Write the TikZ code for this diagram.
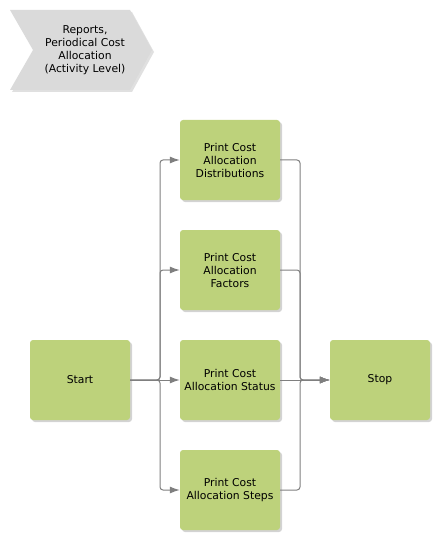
\documentclass[tikz,border=0pt]{standalone}
\usepackage{fontspec}
\setmainfont{DejaVu Sans}
\usetikzlibrary{shadows,arrows.meta}
\definecolor{boxgreen}{HTML}{BDD27B}
\definecolor{hdrgray}{HTML}{DADADA}
\definecolor{linegray}{HTML}{7F7F7F}
\tikzset{
  task/.style={draw=none, fill=boxgreen, rounded corners=3pt, minimum width=100pt, minimum height=80pt,
    align=center, font=\fontsize{10.8pt}{13pt}\selectfont, inner sep=0pt,
    drop shadow={shadow xshift=2pt, shadow yshift=-2pt, opacity=0.35, fill=black!50}},
  conn/.style={draw=linegray, line width=1pt, rounded corners=3pt, -{Latex[length=10pt,width=7pt]}},
}
\begin{document}
\begin{tikzpicture}[x=1pt,y=-1pt]
\useasboundingbox (0,0) rectangle (440,540);
% header chevron
\fill[black!30, opacity=0.4] (12,12) -- (132,12) -- (154,52) -- (132,92) -- (12,92) -- (35,52) -- cycle;
\fill[hdrgray] (10,10) -- (130,10) -- (152,50) -- (130,90) -- (10,90) -- (33,50) -- cycle;
\node[align=center, font=\fontsize{10.8pt}{13pt}\selectfont] (hdr) at (85,50) {Reports,\\Periodical Cost\\Allocation\\(Activity Level)};
% tasks
\node[task] (start) at (80,380) {Start};
\node[task] (dist) at (230,160) {Print Cost\\Allocation\\Distributions};
\node[task] (fact) at (230,270) {Print Cost\\Allocation\\Factors};
\node[task] (stat) at (230,380) {Print Cost\\Allocation Status};
\node[task] (steps) at (230,490) {Print Cost\\Allocation Steps};
\node[task] (stop) at (380,380) {Stop};
% connectors
\coordinate (lb) at (160,380);
\coordinate (rb) at (300,380);
\draw[conn] (start.east) -- (lb) |- (dist.west);
\draw[conn] (start.east) -- (lb) |- (fact.west);
\draw[conn] (start.east) -- (stat.west);
\draw[conn] (start.east) -- (lb) |- (steps.west);
\draw[conn] (dist.east) -| (rb) -- (stop.west);
\draw[conn] (fact.east) -| (rb) -- (stop.west);
\draw[conn] (stat.east) -- (stop.west);
\draw[conn] (steps.east) -| (rb) -- (stop.west);
\end{tikzpicture}
\end{document}
